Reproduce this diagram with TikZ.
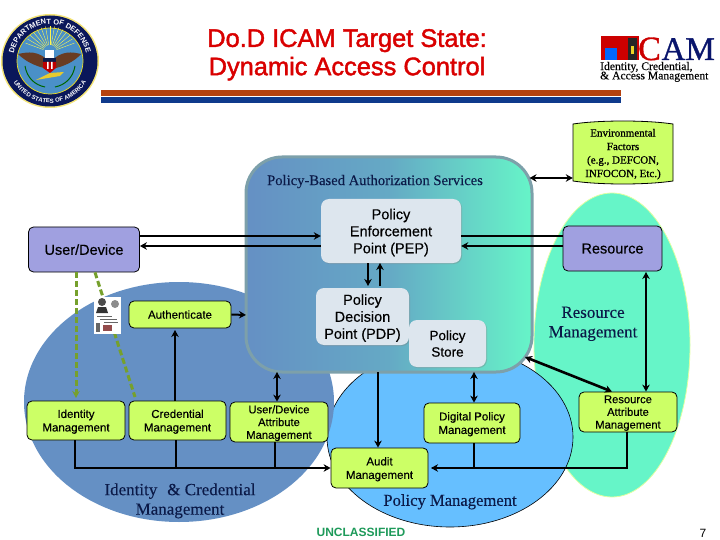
\documentclass[tikz,border=0pt]{standalone}
\usepackage{fontspec}
\setmainfont{Liberation Sans}[FakeBold=0.4]
\newfontfamily\plainf{Liberation Sans}
\newfontfamily\titlef{Liberation Sans}[FakeBold=1.6]
\newfontfamily\tnr{Liberation Serif}[FakeBold=0.2]
\newfontfamily\tnrb{Liberation Serif}[FakeBold=1.0]
\usetikzlibrary{arrows.meta,shadows,decorations.text,calc}
\definecolor{lblue}{HTML}{6590C4}
\definecolor{pblue}{HTML}{66BFFF}
\definecolor{mint}{HTML}{66F5C8}
\definecolor{lime}{HTML}{CCFF66}
\definecolor{peri}{HTML}{A0A0E0}
\definecolor{pale}{HTML}{DDE6EE}
\definecolor{navy}{HTML}{0B1A48}
\definecolor{dgreen}{HTML}{76A02C}
\newcommand{\fsz}[1]{\fontsize{#1}{#1}\selectfont}
\tikzset{
 x=1pt,y=-1pt,
 tip/.style={-{Stealth[length=7pt,width=7.5pt]}},
 biarrow/.style={{Stealth[length=7pt,width=7.5pt]}-{Stealth[length=7pt,width=7.5pt]}},
 conn/.style={draw=black,line width=2.6pt},
 thin conn/.style={draw=black,line width=2pt},
 dashgreen/.style={draw=dgreen,line width=3pt,dash pattern=on 6pt off 3pt},
 base/.style={align=center,inner sep=0pt,text=black,text depth=0pt},
 limebox/.style={base,draw=black,line width=.8pt,fill=lime,rounded corners=5pt,font=\fsz{11.5}},
 perib/.style={base,draw=black,line width=.8pt,fill=peri,rounded corners=5pt,font=\fsz{14.5},minimum width=111pt,minimum height=45pt},
 palebox/.style={base,fill=pale,rounded corners=8pt,font=\fsz{14.5},drop shadow={shadow xshift=1pt,shadow yshift=-1pt,opacity=.35}},
 serifl/.style={base,font=\tnr\fsz{17},text=navy},
 title/.style={base,text=red!85!black,font=\titlef\fsz{25.4}},
}
\begin{document}
\begin{tikzpicture}
\useasboundingbox (0,0) rectangle (720,540);
\fill[white] (0,0) rectangle (720,540);
% title
\node[title] (t1) at (347,38) {Do.D ICAM Target State:};
\node[title] (t2) at (347,66) {Dynamic Access Control};
\fill[fill={rgb,255:red,181;green,66;blue,15}] (101,90) rectangle (621,96);
\fill[fill={rgb,255:red,15;green,58;blue,140}] (101,97) rectangle (621,103);
% seal
\fill[fill=yellow!70!brown!60] (50,61) ellipse[x radius=49,y radius=47];
\fill[fill=navy!90!blue] (50,61) ellipse[x radius=47.5,y radius=45.5];
\fill[fill={rgb,255:red,74;green,144;blue,200}] (50,61) circle[radius=33];
\draw[yellow!80!brown,line width=.7pt] (50,61) circle[radius=33];
\foreach \a in {200,210,...,340} \draw[yellow!70!white,line width=.4pt] ($(50,52)+(\a:7)$) -- ($(50,52)+(\a:26)$);
\fill[fill={rgb,255:red,105;green,60;blue,35}] (50,62) .. controls (38,50) and (28,52) .. (18,54) .. controls (26,62) and (36,66) .. (44,68) -- (56,68) .. controls (64,66) and (74,62) .. (81,54) .. controls (72,52) and (62,50) .. (50,62);
\fill[white] (45,50) rectangle (54,58);
\fill[fill=navy] (43,58) rectangle (56,62);
\fill[fill=red!75!black] (43,62) -- (56,62) -- (56,68) -- (50,73) -- (43,68) -- cycle;
\fill[white] (47,62) rectangle (48.5,69) (51,62) rectangle (52.5,69);
\fill[fill=yellow!60!brown] (36,80) -- (50,73) -- (64,72) -- (60,76) -- (48,78) -- cycle;
\draw[green!40!black,line width=1pt] (25,66) .. controls (27,78) and (35,85) .. (45,87);
\draw[green!40!black,line width=1pt] (75,66) .. controls (73,78) and (65,85) .. (55,87);
\path[decorate,decoration={text along path,text align=center,text={|\plainf\bfseries\fsz{7.4}\color{white}|DEPARTMENT OF DEFENSE}}] ([shift={(50,61)}]172:37) arc[start angle=172,end angle=368,radius=37];
\path[decorate,decoration={text along path,text align=center,text={|\plainf\bfseries\fsz{6}\color{white}|UNITED STATES OF AMERICA}}] ([shift={(50,61)}]168:42) arc[start angle=168,end angle=12,radius=42];
% ICAM logo
\fill[fill=red!80!black] (601,36) rectangle (639,60);
\fill[fill=blue!60!cyan] (605,48) rectangle (617,60);
\fill[fill=black!85] (628,38) rectangle (637,60);
\fill[fill=yellow!70!brown] (631,46) rectangle (634,54);
\node[base,text depth=,font=\tnrb\fsz{34},text=red!80!black,anchor=base west] (lc) at (638,60) {C};
\node[base,text depth=,font=\tnrb\fsz{33},text=navy!80!blue,anchor=base east] (lam) at (715,60) {AM};
\node[base,font=\tnr\fsz{11.6},anchor=west] (l1) at (600,66) {Identity, Credential,};
\node[base,font=\tnr\fsz{11.6},anchor=west] (l2) at (600,75.5) {\& Access Management};
% regions
\filldraw[fill=mint,draw=lime!60!white,line width=.8pt] (612,345) ellipse[x radius=78,y radius=152];
\filldraw[fill=pblue,draw=black,line width=.6pt] (450,437) ellipse[x radius=123,y radius=90];
\fill[fill=lblue] (179,402) ellipse[x radius=155,y radius=120];
\node[base,minimum width=286pt,minimum height=215pt,rounded corners=36pt,draw={rgb,255:red,125;green,160;blue,170},line width=3pt,left color=lblue,right color=mint,middle color=lblue!75!mint] (pbas) at (389,264.5) {};
% env shape
\filldraw[fill=lime,draw=black,line width=.8pt] (573,124) .. controls (600,120) and (646,120) .. (673,124) -- (673,181) .. controls (646,185) and (600,185) .. (573,181) -- cycle;
% nodes
\node[base,font=\tnr\fsz{14.6},text=navy] (pbt) at (375,180) {Policy-Based Authorization Services};
\node[palebox,minimum width=140pt,minimum height=64pt] (pep) at (391,231) {Policy\\[2.5pt]Enforcement\\[2.5pt]Point (PEP)};
\node[palebox,minimum width=93pt,minimum height=57pt] (pdp) at (362.5,316.5) {Policy\\[2.5pt]Decision\\[2.5pt]Point (PDP)};
\node[palebox,minimum width=77pt,minimum height=47pt,font=\fsz{13.5}] (store) at (447.5,343.5) {Policy\\[3pt]Store};
\node[perib] (ud) at (84,249.5) {User/Device};
\node[perib,minimum width=99pt] (res) at (612.5,248.5) {Resource};
\node[limebox,minimum width=102pt,minimum height=27pt] (auth) at (180,314.5) {Authenticate};
\node[limebox,minimum width=98pt,minimum height=39pt] (idm) at (76,420.5) {Identity\\[2pt]Management};
\node[limebox,minimum width=97pt,minimum height=39pt] (crm) at (177.5,420.5) {Credential\\[2pt]Management};
\node[limebox,minimum width=98pt,minimum height=40pt,font=\fsz{11.2}] (uam) at (279,422) {User/Device\\[1.5pt]Attribute\\[1.5pt]Management};
\node[limebox,minimum width=96pt,minimum height=40pt] (dpm) at (472,423) {Digital Policy\\[2pt]Management};
\node[limebox,minimum width=97pt,minimum height=40pt] (aud) at (379.5,468) {Audit\\[2pt]Management};
\node[limebox,minimum width=98pt,minimum height=40pt,font=\fsz{11.2}] (ram) at (628,412) {Resource\\[1.5pt]Attribute\\[1.5pt]Management};
\node[base,minimum width=100pt,minimum height=61pt,font=\tnrb\fsz{11}] (env) at (623,153) {Environmental\\[2.5pt]Factors\\[2.5pt](e.g., DEFCON,\\[2.5pt]INFOCON, Etc.)};
% labels
\node[serifl] (rml) at (593,322) {Resource\\[2.5pt]Management};
\node[serifl] (icm) at (180,499) {Identity\,\, \& Credential\\[2.5pt]Management};
\node[serifl,font=\tnr\fsz{16.6}] (pml) at (450,500) {Policy Management};
\node[base,font=\plainf\bfseries\fsz{12},text={rgb,255:red,30;green,154;blue,90}] (unc) at (361,532) {UNCLASSIFIED};
\node[base,font=\plainf\fsz{12}] (pg) at (703,533) {7};
% connectors
\draw[dashgreen,tip] (ud.south -| idm) -- (76,398);
\draw[dashgreen] (ud.south -| 95,0) -- (135,397);
% card
\node[base,fill=white,minimum width=27pt,minimum height=37pt] (card) at (107.5,315.5) {};
\fill[fill=black!70] (102,302) circle[radius=4];
\fill[fill=black!80] (96,313) -- (98,307) -- (106,307) -- (108,313) -- cycle;
\fill[fill=black!45] (115,304) circle[radius=4];
\fill[fill=black!60] (96,323) rectangle (100,332);
\fill[fill=red!40!black!70] (103,325) rectangle (112,331);
\draw[black!60,line width=.5pt] (97,316) -- (112,316) (100,319) -- (117,319) (104,322) -- (118,322);
\draw[thin conn,tip] (ud.east |- 0,236) -- (pep.west |- 0,236);
\draw[conn,tip] (pep.west |- 0,246) -- (ud.east |- 0,246);
\draw[thin conn] (pep.east |- 0,236) -- (res.west |- 0,236);
\draw[conn,tip] (res.west |- 0,246) -- (pep.east |- 0,246);
\draw[conn,tip] (368,263) -- (368,286);
\draw[conn,tip] (380,286) -- (380,263);
\draw[conn,biarrow] (pbas.east |- 0,178) ++(-4,0) -- (env.west |- 0,178);
\draw[thin conn,tip] (auth.east) -- (246,315);
\draw[thin conn,tip] (crm.north |- 0,401) ++(-2.5,0) -- (175,330);
\draw[conn,biarrow] (277,372) -- (uam.north -| 277,0);
\draw[thin conn,tip] (378,372) -- (aud.north -| 378,0);
\draw[thin conn,biarrow] (474,372) -- (dpm.north -| 474,0);
\draw[conn,biarrow] (525,357) -- (ram.north -| 612,0);
\draw[thin conn,biarrow] (646,272) -- (ram.north -| 646,0);
\draw[thin conn,tip] (idm.south -| 75,0) |- (aud.west |- 0,468);
\draw[thin conn] (crm.south -| 176,0) -- (176,468);
\draw[conn] (uam.south -| 275,0) -- (275,468);
\draw[conn] (ram.south -| 627,0) |- (432,468);
\draw[conn,tip] (474,468) -- (431,468);
\draw[conn] (dpm.south -| 474,0) -- (474,468);
\end{tikzpicture}
\end{document}
